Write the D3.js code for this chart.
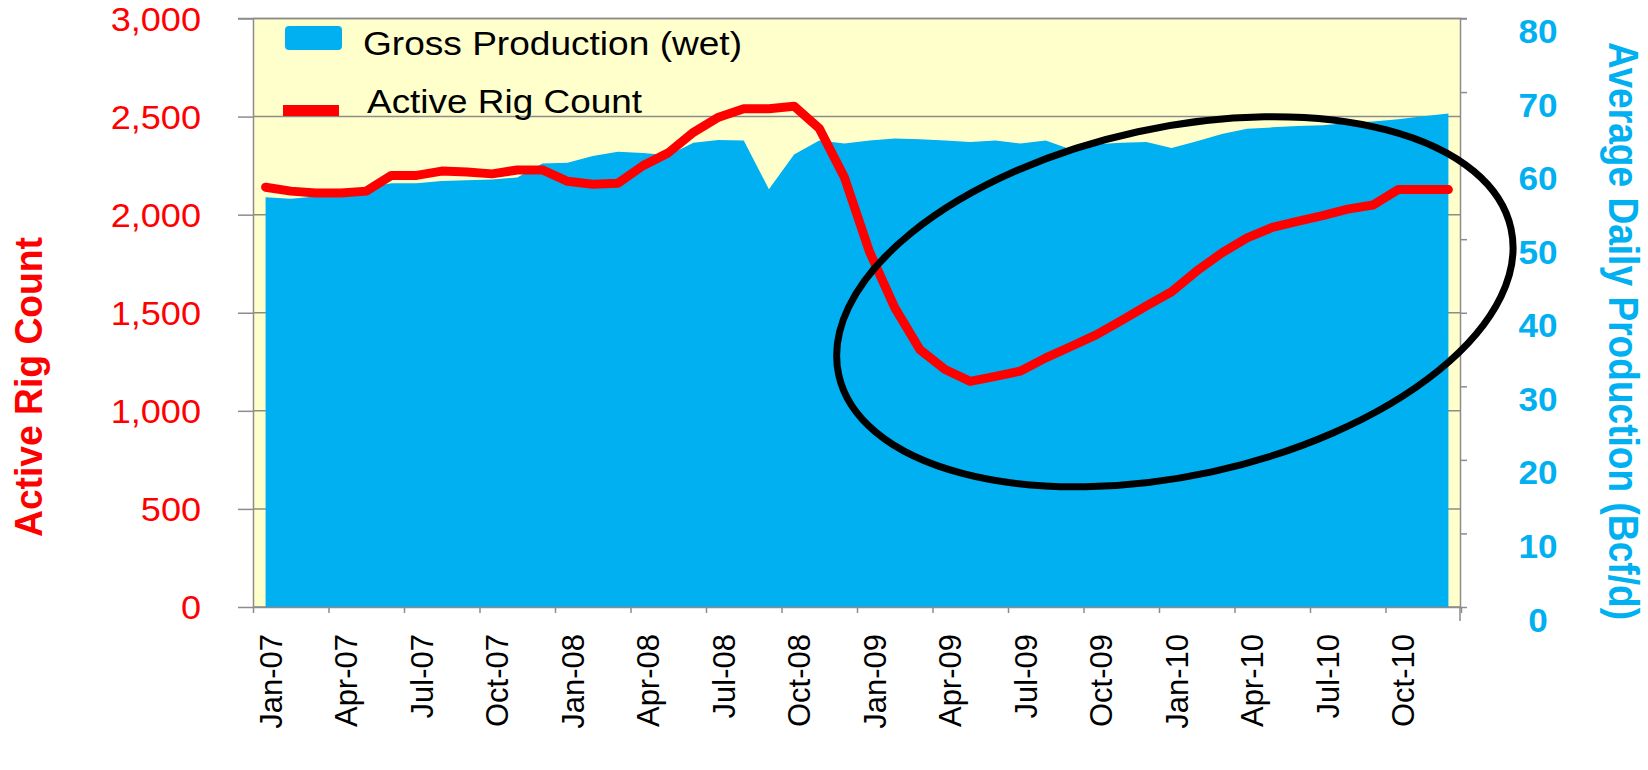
<!DOCTYPE html>
<html><head><meta charset="utf-8">
<script src="https://cdn.jsdelivr.net/npm/d3@7"></script>
<style>body{margin:0;background:#fff}svg{display:block}text{font-family:"Liberation Sans",Arial,Helvetica,sans-serif}</style>
</head><body><svg id="c" width="1648" height="770"></svg>
<script>
// ---- data ----
const months = ["Jan-07","Feb-07","Mar-07","Apr-07","May-07","Jun-07","Jul-07","Aug-07","Sep-07","Oct-07","Nov-07","Dec-07",
  "Jan-08","Feb-08","Mar-08","Apr-08","May-08","Jun-08","Jul-08","Aug-08","Sep-08","Oct-08","Nov-08","Dec-08",
  "Jan-09","Feb-09","Mar-09","Apr-09","May-09","Jun-09","Jul-09","Aug-09","Sep-09","Oct-09","Nov-09","Dec-09",
  "Jan-10","Feb-10","Mar-10","Apr-10","May-10","Jun-10","Jul-10","Aug-10","Sep-10","Oct-10","Nov-10","Dec-10"];
const rigCount = [2140,2120,2110,2110,2120,2200,2200,2222,2218,2208,2228,2228,
  2170,2155,2160,2250,2315,2420,2497,2540,2540,2553,2440,2190,
  1810,1526,1312,1211,1150,1176,1203,1270,1328,1387,1460,1535,
  1607,1713,1805,1882,1935,1966,1995,2028,2049,2128,2128,2128];
const grossProduction = [55.7,55.5,55.8,56.3,57.0,57.6,57.6,57.9,58.0,58.1,58.4,60.3,
  60.4,61.3,61.9,61.7,61.4,63.1,63.5,63.4,56.8,61.5,63.4,63.0,
  63.4,63.7,63.6,63.4,63.2,63.4,63.0,63.4,62.2,62.9,63.1,63.2,
  62.4,63.3,64.3,65.0,65.2,65.4,65.5,65.8,66.0,66.3,66.7,67.1];
const xTickLabels = ["Jan-07","Apr-07","Jul-07","Oct-07","Jan-08","Apr-08","Jul-08","Oct-08",
  "Jan-09","Apr-09","Jul-09","Oct-09","Jan-10","Apr-10","Jul-10","Oct-10"];
const rigTicks = [0,500,1000,1500,2000,2500,3000];
const prodTicks = [0,10,20,30,40,50,60,70,80];
const seriesNames = ["Gross Production (wet)","Active Rig Count"];
const axisTitles = ["Active Rig Count","Average Daily Production (Bcf/d)"];
const highlight = {month:"Jan-10", rig:1556};

// ---- layout ----
const m = {left:253, right:1461, top:18.5, bottom:607};
const C = {blue:"#00B0F0", red:"#FF0000", bg:"#FFFFCC", axis:"#8C8C8C"};
const svg = d3.select("#c");

const x = d3.scaleBand().domain(months).range([m.left, m.right]).padding(0);
const bw = x.bandwidth();
const cx = d => x(d) + bw/2;
const xi = d3.scaleLinear().domain([0, months.length]).range([m.left, m.right]);
const yL = d3.scaleLinear().domain([0,3000]).range([m.bottom, m.top]);
const yR = d3.scaleLinear().domain([0,80]).range([m.bottom, m.top]);

function stretch(sel, f){
  sel.each(function(){
    const l = this.getComputedTextLength();
    this.setAttribute("textLength", l*f);
    this.setAttribute("lengthAdjust","spacingAndGlyphs");
  });
}

// plot background
svg.append("rect").attr("x", m.left).attr("y", m.top)
  .attr("width", m.right-m.left).attr("height", m.bottom-m.top).attr("fill", C.bg);

// gridlines
svg.append("g").selectAll("line").data(rigTicks).join("line")
  .attr("x1", m.left).attr("x2", m.right)
  .attr("y1", d=>yL(d)).attr("y2", d=>yL(d))
  .attr("stroke", C.axis).attr("stroke-width", 1.5);

// area
const area = d3.area().x((d,i)=>cx(months[i])).y0(yR(0)).y1(d=>yR(d));
svg.append("path").datum(grossProduction).attr("d", area).attr("fill", C.blue);

// line
const line = d3.line().x((d,i)=>cx(months[i])).y(d=>yL(d));
svg.append("path").datum(rigCount).attr("d", line).attr("fill","none")
  .attr("stroke", C.red).attr("stroke-width", 9)
  .attr("stroke-linejoin","round").attr("stroke-linecap","round");

// left axis
const gL = svg.append("g").attr("transform", `translate(${m.left},0)`)
  .call(d3.axisLeft(yL).tickValues(rigTicks).tickSize(15).tickSizeOuter(0)
    .tickPadding(37).tickFormat(d3.format(",")));
gL.select(".domain").attr("stroke", C.axis).attr("stroke-width", 1.5);
gL.selectAll(".tick line").attr("stroke", C.axis).attr("stroke-width", 1.5);
gL.selectAll(".tick text").attr("fill", C.red).attr("font-size", 32.5)
  .attr("font-family", '"Liberation Sans",Arial,sans-serif').attr("dy","0.36em");
stretch(gL.selectAll(".tick text"), 1.11);

// right axis
const gR = svg.append("g").attr("transform", `translate(${m.right-1},0)`)
  .call(d3.axisRight(yR).tickValues(prodTicks).tickSize(7).tickSizeOuter(0).tickFormat(d3.format("d")));
gR.select(".domain").attr("stroke", C.axis).attr("stroke-width", 1.5);
gR.selectAll(".tick line").attr("stroke", C.axis).attr("stroke-width", 1.5);
gR.selectAll(".tick text").attr("fill", C.blue).attr("font-size", 33.5).attr("font-weight","bold")
  .attr("font-family", '"Liberation Sans",Arial,sans-serif')
  .attr("text-anchor","middle").attr("x", 78).attr("y", 12).attr("dy","0.36em");
stretch(gR.selectAll(".tick text"), 1.05);
// right axis line runs a little below the plot
svg.append("line").attr("x1", m.right-1).attr("x2", m.right-1)
  .attr("y1", m.bottom).attr("y2", m.bottom+14).attr("stroke", C.axis).attr("stroke-width", 1.5);

// top extension of frame
svg.append("line").attr("x1", m.left-15).attr("x2", m.right+6)
  .attr("y1", yL(3000)).attr("y2", yL(3000)).attr("stroke", C.axis).attr("stroke-width", 1.5);

// bottom axis
const gB = svg.append("g").attr("transform", `translate(0,${m.bottom})`)
  .call(d3.axisBottom(xi).tickValues(d3.range(0, months.length+1, 3)).tickSize(6).tickSizeOuter(0).tickFormat(""));
gB.select(".domain").attr("stroke", C.axis).attr("stroke-width", 1.5);
gB.selectAll(".tick line").attr("stroke", C.axis).attr("stroke-width", 1.5);

// x labels
svg.append("g").selectAll("text").data(xTickLabels).join("text")
  .attr("transform", d=>`translate(${cx(d)+16},634) rotate(-90)`)
  .attr("text-anchor","end").attr("font-size", 31).attr("fill","#000")
  .text(d=>d);

// axis titles
svg.append("text").attr("transform", `translate(42,387) rotate(-90)`)
  .attr("text-anchor","middle").attr("font-size", 39).attr("font-weight","bold")
  .attr("fill", C.red).attr("textLength", 300).attr("lengthAdjust","spacingAndGlyphs")
  .text(axisTitles[0]);
svg.append("text").attr("transform", `translate(1609,331) rotate(90)`)
  .attr("text-anchor","middle").attr("font-size", 42).attr("font-weight","bold")
  .attr("fill", C.blue).attr("textLength", 578).attr("lengthAdjust","spacingAndGlyphs")
  .text(axisTitles[1]);

// legend
const lg = svg.append("g");
lg.append("rect").attr("x",285).attr("y",26).attr("width",57).attr("height",24).attr("rx",4).attr("fill",C.blue);
lg.append("text").attr("x",363).attr("y",55).attr("font-size",32.5).attr("fill","#000")
  .attr("textLength",379).attr("lengthAdjust","spacingAndGlyphs").text(seriesNames[0]);
lg.append("rect").attr("x",283).attr("y",105).attr("width",56).attr("height",11).attr("fill",C.red);
lg.append("text").attr("x",367).attr("y",113).attr("font-size",32.5).attr("fill","#000")
  .attr("textLength",275).attr("lengthAdjust","spacingAndGlyphs").text(seriesNames[1]);

// highlight ellipse annotation
const ex = x(highlight.month) + bw*0.63, ey = yL(highlight.rig);
svg.append("ellipse").attr("cx", ex).attr("cy", ey).attr("rx", 344).attr("ry", 174)
  .attr("transform", `rotate(-12.25,${ex},${ey})`)
  .attr("fill","none").attr("stroke","#000").attr("stroke-width",7);
</script></body></html>
